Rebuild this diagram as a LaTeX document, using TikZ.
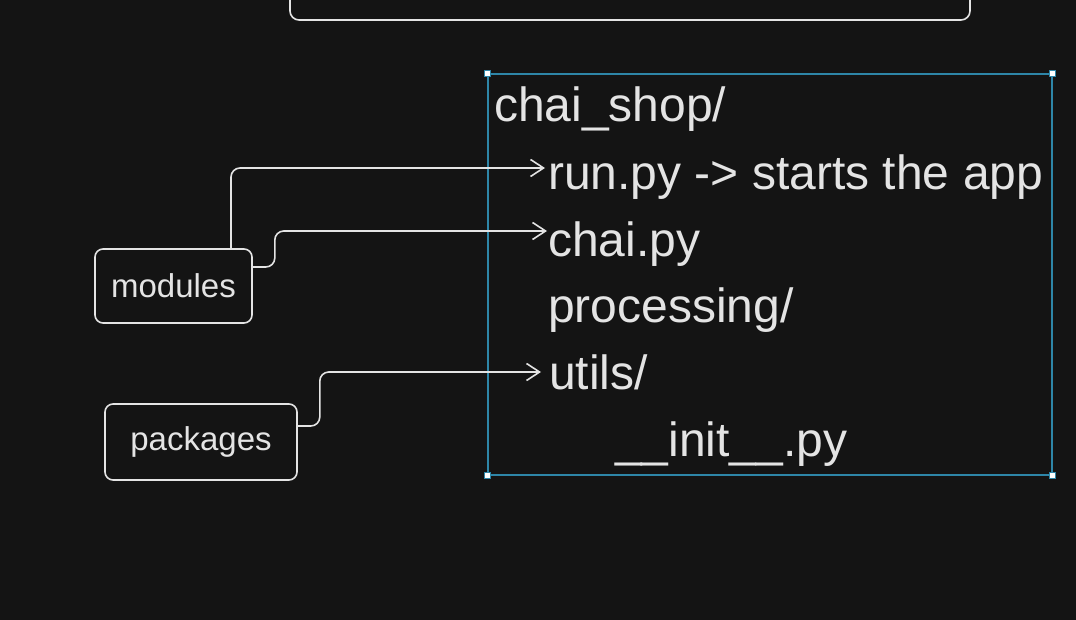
\documentclass[tikz,border=0pt]{standalone}
\usepackage{fontspec}
\setmainfont{Liberation Sans}
\usepackage{tikz}
\usetikzlibrary{arrows.meta}

\definecolor{canvas}{HTML}{141414}
\definecolor{ink}{HTML}{E4E4E4}
\definecolor{select}{HTML}{2E86A8}

\begin{document}
\begin{tikzpicture}[
    x=1pt, y=-1pt,
    box/.style={rectangle, draw=ink, line width=1.6pt, rounded corners=8pt, text=ink, inner sep=0pt, font=\fontsize{33}{40}\selectfont},
    entry/.style={anchor=base west, inner sep=0pt, text=ink, font=\fontsize{48}{58}\selectfont},
    edge/.style={draw=ink, line width=1.6pt, rounded corners=9pt, -{Straight Barb[length=13pt,width=17pt,line width=1.6pt]}},
    handle/.style={rectangle, fill=white, draw=select, line width=0.6pt, minimum size=6pt, inner sep=0pt}
]
    \fill[canvas] (0,0) rectangle (1076,620);
    \useasboundingbox (0,0) rectangle (1076,620);
    \clip (0,0) rectangle (1076,620);

    % box cut off at the top
    \draw[ink, line width=1.6pt, rounded corners=9pt] (290,-40) rectangle (970,20);

    % selection frame
    \node[draw=select, line width=1.1pt, minimum width=564pt, minimum height=401pt, inner sep=0pt] (frame) at (770,274.5) {};
    \foreach \c in {north west, north east, south west, south east}
        \node[handle] at (frame.\c) {};

    % folder listing
    \node[entry] (shop) at (494,122) {chai\_shop/};
    \node[entry] (runpy) at (548,190) {run.py -> starts the app};
    \node[entry] (chaipy) at (548,257) {chai.py};
    \node[entry] (proc) at (548,323) {processing/};
    \node[entry] (utils) at (549,389) {utils/};
    \node[entry] (init) at (615,456) {\_\_init\_\_.py};

    \coordinate (runtip) at (545,168);
    \coordinate (chaitip) at (547,231);
    \coordinate (utilstip) at (541,372);

    % labels
    \node[box, minimum width=157pt, minimum height=74pt] (modules) at (173.5,286) {modules};
    \node[box, minimum width=192pt, minimum height=76pt] (packages) at (201,442) {packages};

    \draw[edge] ([xshift=57.5pt]modules.north) |- (runtip);
    \draw[edge] ([yshift=19pt]modules.east) -- ++(22,0) |- (chaitip);
    \draw[edge] ([yshift=16pt]packages.east) -- ++(22,0) |- (utilstip);
\end{tikzpicture}
\end{document}
